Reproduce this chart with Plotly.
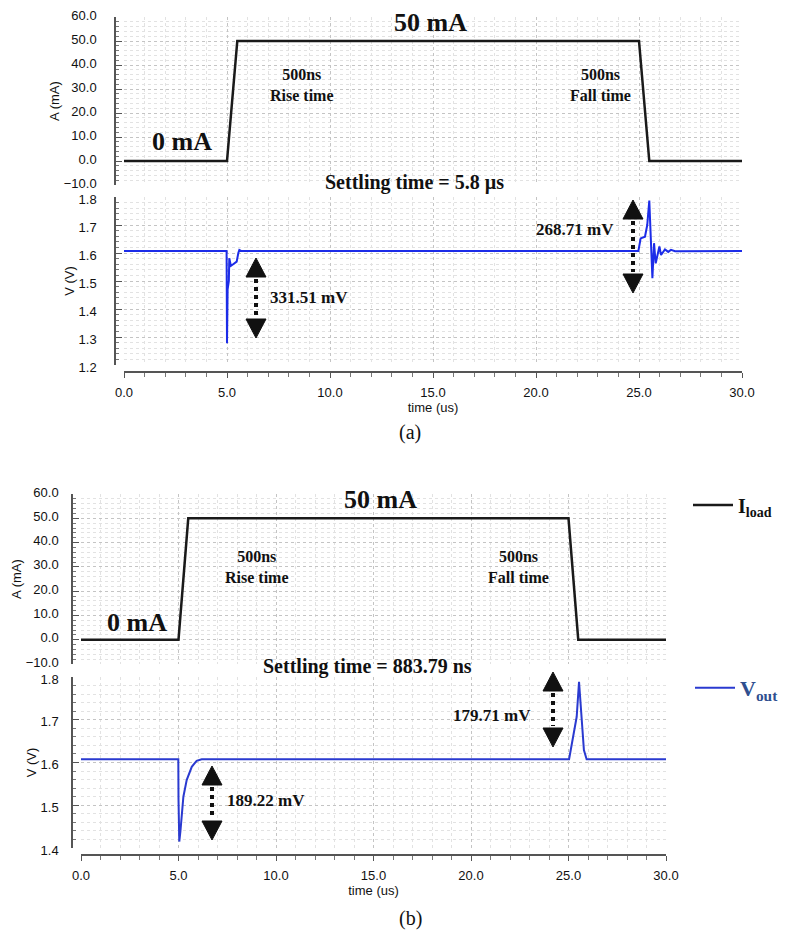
import plotly.graph_objects as go

W, H = 801, 936

# ---------------- data ----------------
t_i = [0.0, 5.0, 5.5, 25.0, 25.5, 30.0]
i_load_a = [0, 0, 50, 50, 0, 0]
i_load_b = [0, 0, 50, 50, 0, 0]

t_va = [0.0, 4.98, 4.99, 5.00, 5.03, 5.06, 5.09, 5.11, 5.15, 5.19, 5.30, 5.47, 5.55, 5.60, 5.70,
        24.97, 25.08, 25.29, 25.40, 25.50, 25.65, 25.73, 25.81, 25.99, 26.07, 26.26, 26.42,
        26.55, 26.75, 30.0]
v_out_a = [1.607, 1.607, 1.45, 1.278, 1.47, 1.486, 1.50, 1.581, 1.565, 1.554, 1.560, 1.569, 1.60,
           1.611, 1.607,
           1.607, 1.652, 1.658, 1.700, 1.787, 1.510, 1.635, 1.563, 1.623, 1.593, 1.613, 1.604,
           1.611, 1.606, 1.607]

t_vb = [0.0, 4.99, 5.00, 5.04, 5.10, 5.16, 5.25, 5.42, 5.68, 5.93, 6.19,
        25.03, 25.25, 25.42, 25.54, 25.68, 25.79, 25.93, 30.0]
v_out_b = [1.6075, 1.6075, 1.514, 1.415, 1.44, 1.473, 1.52, 1.559, 1.59, 1.604, 1.6075,
           1.6075, 1.660, 1.707, 1.789, 1.692, 1.629, 1.6075, 1.6075]

x_tick_vals = [0, 5, 10, 15, 20, 25, 30]

# ---------------- helpers ----------------
def px(x):
    return x / W

def py(y):
    return 1 - y / H

TICKFONT = dict(family="Liberation Sans", size=13, color="#111")
SERIF = "Liberation Serif"
GRID = dict(showgrid=True, gridcolor="#c4c4c4", griddash="dot", gridwidth=1, zeroline=False)
MINOR_COLOR = "#e2e2e2"

panels = {
    "a": dict(x0=124, x1=742, yline=115, cur=(17, 185), volt=(197, 365), xline=372,
              vrange=[1.2, 1.8], ystand=15),
    "b": dict(x0=81, x1=666, yline=72, cur=(494, 664), volt=(677, 848), xline=855,
              vrange=[1.4, 1.8], ystand=10),
}

fig = go.Figure()
layout = dict(
    width=W, height=H, margin=dict(l=0, r=0, t=0, b=0),
    template="none", paper_bgcolor="white", plot_bgcolor="white",
)

axis_ids = {"a": ("", "2"), "b": ("3", "4")}

for key, p in panels.items():
    ci, vi = axis_ids[key]
    xdom = [px(p["x0"]), px(p["x1"])]
    # current subplot x-axis (no labels)
    layout["xaxis" + ci] = dict(
        domain=xdom, range=[0, 30], anchor="y" + ci, matches="x" + vi,
        showticklabels=False, ticks="", showline=False, dtick=5, tick0=0,
        minor=dict(dtick=1, showgrid=True, gridcolor=MINOR_COLOR, griddash="dot"),
        automargin=False, **GRID,
    )
    layout["yaxis" + ci] = dict(
        domain=[py(p["cur"][1]), py(p["cur"][0])], range=[-10, 60],
        anchor="free", position=px(p["yline"]),
        dtick=10, tick0=0, tickformat=".1f", tickfont=TICKFONT,
        showline=True, linecolor="#555", linewidth=1.5,
        ticks="inside", ticklen=6, tickcolor="#555",
        ticklabelstandoff=p["ystand"], ticklabelshift=-2,
        minor=dict(dtick=2, ticks="inside", ticklen=3, tickcolor="#777",
                   showgrid=True, gridcolor=MINOR_COLOR, griddash="dot"),
        title=dict(text="A (mA)", font=TICKFONT, standoff=0),
        automargin=False, **GRID,
    )
    # voltage subplot
    layout["xaxis" + vi] = dict(
        domain=xdom, range=[0, 30], anchor="free", position=py(p["xline"]),
        tickvals=x_tick_vals, tickformat=".1f", tickfont=TICKFONT,
        showline=True, linecolor="#555", linewidth=1.5,
        ticks="outside", ticklen=5, tickcolor="#555", ticklabelstandoff=4,
        minor=dict(dtick=1, ticks="outside", ticklen=4, tickcolor="#777",
                   showgrid=True, gridcolor=MINOR_COLOR, griddash="dot"),
        title=dict(text="time (us)", font=dict(family="Liberation Sans", size=13, color="#111"),
                   standoff=0),
        automargin=False, **GRID,
    )
    layout["yaxis" + vi] = dict(
        domain=[py(p["volt"][1]), py(p["volt"][0])], range=p["vrange"],
        anchor="free", position=px(p["yline"]),
        dtick=0.1, tick0=1.2, tickformat=".1f", tickfont=TICKFONT,
        showline=True, linecolor="#555", linewidth=1.5,
        ticks="inside", ticklen=6, tickcolor="#555",
        ticklabelstandoff=p["ystand"], ticklabelshift=2,
        minor=dict(dtick=0.02, ticks="inside", ticklen=3, tickcolor="#777",
                   showgrid=True, gridcolor=MINOR_COLOR, griddash="dot"),
        title=dict(text="V (V)", font=TICKFONT, standoff=0),
        automargin=False, **GRID,
    )

# traces
fig.add_trace(go.Scatter(x=t_i, y=i_load_a, mode="lines", xaxis="x", yaxis="y",
                         line=dict(color="#1a1a1a", width=2.5), showlegend=False))
fig.add_trace(go.Scatter(x=t_va, y=v_out_a, mode="lines", xaxis="x2", yaxis="y2",
                         line=dict(color="#1c2ce8", width=2), showlegend=False))
fig.add_trace(go.Scatter(x=t_i, y=i_load_b, mode="lines", xaxis="x3", yaxis="y3",
                         name="<b>I<sub>load</sub></b>", legend="legend",
                         line=dict(color="#1a1a1a", width=2.5)))
fig.add_trace(go.Scatter(x=t_vb, y=v_out_b, mode="lines", xaxis="x4", yaxis="y4",
                         name="<b>V<sub>out</sub></b>", legend="legend2",
                         line=dict(color="#2a3ad0", width=2)))

layout["legend"] = dict(x=px(688), y=py(505), xanchor="left", yanchor="middle",
                        bgcolor="rgba(0,0,0,0)", itemwidth=40,
                        font=dict(family=SERIF, size=20, color="#111"))
layout["legend2"] = dict(x=px(690), y=py(688), xanchor="left", yanchor="middle",
                         bgcolor="rgba(0,0,0,0)", itemwidth=40,
                         font=dict(family=SERIF, size=22, color="#2f4f8f"))

# annotations (text)
texts = [
    # panel (a)
    ("50 mA", 430, 22, 26, "bold"),
    ("0 mA", 182, 141, 26, "bold"),
    ("500ns<br>Rise time", 302, 85, 16, "bold"),
    ("500ns<br>Fall time", 600, 85, 16, "bold"),
    ("Settling time = 5.8 µs", 414, 183, 20, "bold"),
    ("331.51 mV", 309, 297, 17, "bold"),
    ("268.71 mV", 575, 229, 17, "bold"),
    ("(a)", 410, 432, 20, "normal"),
    # panel (b)
    ("50 mA", 380, 499, 26, "bold"),
    ("0 mA", 137, 622, 26, "bold"),
    ("500ns<br>Rise time", 257, 567, 16, "bold"),
    ("500ns<br>Fall time", 518, 567, 16, "bold"),
    ("Settling time = 883.79 ns", 367, 666, 20, "bold"),
    ("189.22 mV", 266, 800, 17, "bold"),
    ("179.71 mV", 492, 715, 17, "bold"),
    ("(b)", 410, 918, 20, "normal"),
]
annotations = []
for txt, x, y, size, weight in texts:
    annotations.append(dict(
        text=txt, x=px(x), y=py(y), xref="paper", yref="paper",
        xanchor="center", yanchor="middle", showarrow=False,
        font=dict(family=SERIF, size=size, color="#111", weight=weight),
    ))
layout["annotations"] = annotations

# double-headed dotted arrows (decoration, pixel positions)
arrows = [(256, 258, 338), (633, 200, 293), (212, 766, 840), (553, 672, 747)]
shapes = []
hh, hw = 19, 10
for xc, yt, yb in arrows:
    up = f"M {px(xc)},{py(yt)} L {px(xc - hw)},{py(yt + hh)} L {px(xc + hw)},{py(yt + hh)} Z"
    dn = f"M {px(xc)},{py(yb)} L {px(xc - hw)},{py(yb - hh)} L {px(xc + hw)},{py(yb - hh)} Z"
    for path in (up, dn):
        shapes.append(dict(type="path", path=path, xref="paper", yref="paper",
                           fillcolor="#111", line=dict(color="#111", width=1)))
    shapes.append(dict(type="line", x0=px(xc), x1=px(xc), y0=py(yt + hh + 2), y1=py(yb - hh - 2),
                       xref="paper", yref="paper", line=dict(color="#111", width=4, dash="dot")))
layout["shapes"] = shapes

fig.update_layout(**layout)
fig.write_html("out.html")
